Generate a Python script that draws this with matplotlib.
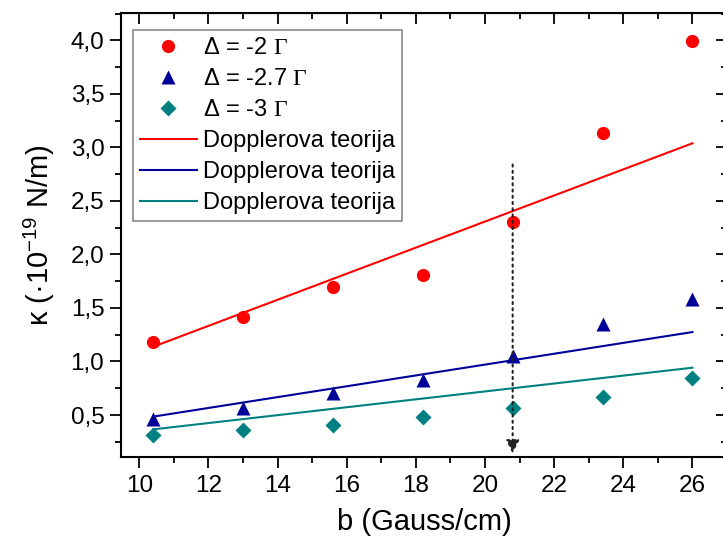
import numpy as np
import matplotlib
matplotlib.use("Agg")
from matplotlib import pyplot as plt

plt.rcParams['font.family'] = ['Liberation Sans', 'DejaVu Sans']
plt.rcParams['mathtext.fontset'] = 'custom'
plt.rcParams['mathtext.rm'] = 'Liberation Serif'
plt.rcParams['mathtext.sf'] = 'Liberation Sans'

# data
b = [10.4, 13.0, 15.6, 18.2, 20.8, 23.4, 26.0]
k_2 = [1.18, 1.42, 1.70, 1.81, 2.30, 3.13, 3.99]
k_27 = [0.46, 0.57, 0.71, 0.83, 1.05, 1.35, 1.58]
k_3 = [0.31, 0.36, 0.41, 0.48, 0.57, 0.665, 0.85]

b_theory = [10.4, 26.0]
th_2 = [1.138, 3.038]
th_27 = [0.485, 1.275]
th_3 = [0.366, 0.942]

arrow_x = 20.8
arrow_top = 2.84

red = '#ff0000'
blue = '#000099'
teal = '#008080'

fig = plt.figure(figsize=(7.23, 5.37), dpi=100)
ax = fig.add_axes([121/723, (537-457)/537, (727-121)/723, (457-13)/537])

ax.plot(b, k_2, 'o', color=red, ms=9.5, mec='none', label=r'Δ = -2 $\mathrm{\Gamma}$')
ax.plot(b, k_27, '^', color=blue, ms=10, mec='none', label=r'Δ = -2.7 $\mathrm{\Gamma}$')
ax.plot(b, k_3, 'D', color=teal, ms=8, mec='none', label=r'Δ = -3 $\mathrm{\Gamma}$')
ax.plot(b_theory, th_2, '-', color=red, lw=1.5, label='Dopplerova teorija')
ax.plot(b_theory, th_27, '-', color=blue, lw=1.5, label='Dopplerova teorija')
ax.plot(b_theory, th_3, '-', color=teal, lw=1.5, label='Dopplerova teorija')

ax.annotate('', xy=(arrow_x, 0.14), xytext=(arrow_x, arrow_top),
            arrowprops=dict(arrowstyle='-|>', linestyle=(0, (1, 2)), color='#222222',
                            lw=1.5, mutation_scale=20, shrinkA=0, shrinkB=0))

ax.set_xlim(9.47, 27.0)
ax.set_ylim(0.108, 4.255)
ax.set_xticks(np.arange(10, 27, 2))
ax.set_xticks(np.arange(11, 27, 2), minor=True)
ax.set_yticks(np.arange(0.5, 4.01, 0.5))
ax.set_yticks(np.arange(0.25, 4.26, 0.5), minor=True)
ax.set_yticklabels([('%.1f' % v).replace('.', ',') for v in np.arange(0.5, 4.01, 0.5)])

ax.tick_params(which='both', direction='out', labelsize=17.5, width=1.3)
ax.tick_params(which='major', length=8)
ax.tick_params(which='minor', length=4)
ax.tick_params(axis='x', pad=5)
ax.tick_params(axis='y', pad=4)
for s in ax.spines.values():
    s.set_linewidth(1.5)

# mirrored ticks on top and right, pointing inward
top = ax.secondary_xaxis('top')
top.set_xticks(np.arange(10, 27, 2))
top.set_xticks(np.arange(11, 27, 2), minor=True)
top.tick_params(which='both', direction='in', labeltop=False, width=1.3)
top.tick_params(which='major', length=8)
top.tick_params(which='minor', length=4)
right = ax.secondary_yaxis('right')
right.set_yticks(np.arange(0.5, 4.01, 0.5))
right.set_yticks(np.arange(0.25, 4.26, 0.5), minor=True)
right.tick_params(which='both', direction='in', labelright=False, width=1.3)
right.tick_params(which='major', length=8)
right.tick_params(which='minor', length=4)

ax.set_xlabel('b (Gauss/cm)', fontsize=21, labelpad=8)
ax.set_ylabel(r'κ (·10$^{\mathsf{-19}}$ N/m)', fontsize=21, labelpad=10)

leg = ax.legend(loc='upper left', bbox_to_anchor=(0.0198, 0.9617), fontsize=17,
                fancybox=False, framealpha=1, edgecolor='#888888',
                handlelength=2.4, labelspacing=0.38, borderpad=0.3, handletextpad=0.25,
                borderaxespad=0)
leg.get_frame().set_linewidth(1.2)

fig.savefig('out.png', dpi=100)
